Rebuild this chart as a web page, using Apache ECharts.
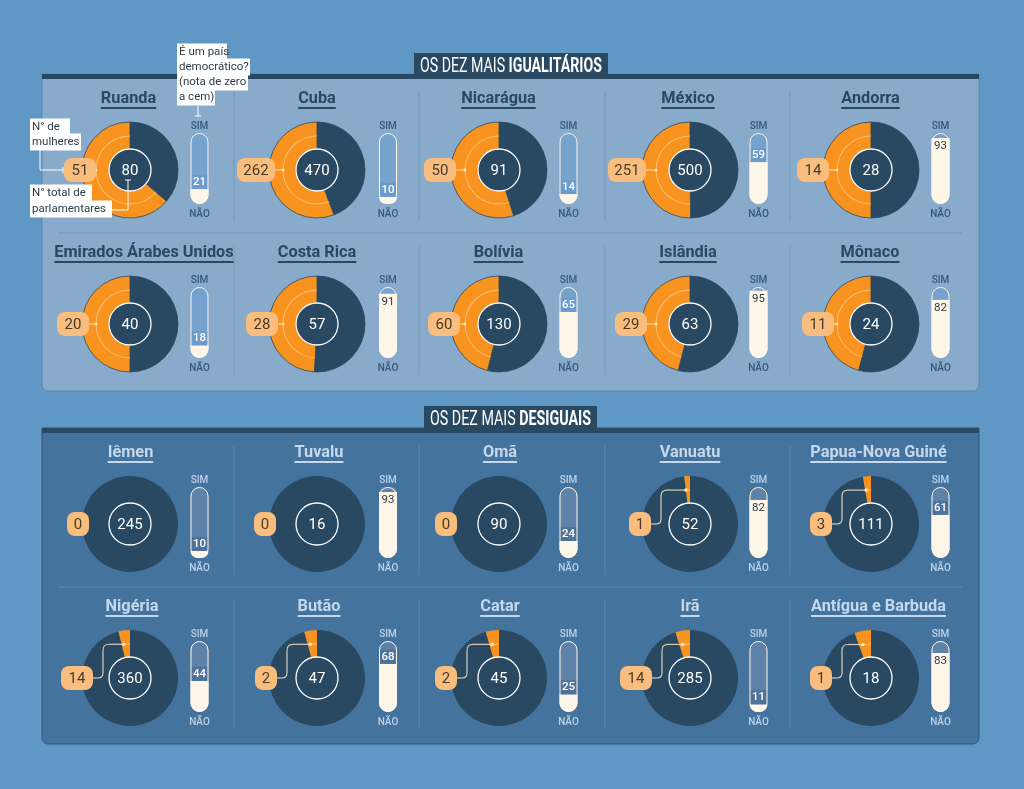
<!DOCTYPE html>
<html>
<head>
  <meta charset="utf-8">
  <title>Os dez mais igualitários e os dez mais desiguais</title>
  <script src="https://cdn.jsdelivr.net/npm/echarts@6/dist/echarts.min.js"></script>
  <style>
    html, body { margin: 0; padding: 0; background: #5f98c4; }
    #chart { width: 1024px; height: 789px; }
  </style>
</head>
<body>
  <div id="chart"></div>
  <script>
    // data
    const countries = [
      'Ruanda', 'Cuba', 'Nicarágua', 'México', 'Andorra',
      'Emirados Árabes Unidos', 'Costa Rica', 'Bolívia', 'Islândia', 'Mônaco',
      'Iêmen', 'Tuvalu', 'Omã', 'Vanuatu', 'Papua-Nova Guiné',
      'Nigéria', 'Butão', 'Catar', 'Irã', 'Antígua e Barbuda'
    ];
    const women = [51, 262, 50, 251, 14, 20, 28, 60, 29, 11, 0, 0, 0, 1, 3, 14, 2, 2, 14, 1];
    const totals = [80, 470, 91, 500, 28, 40, 57, 130, 63, 24, 245, 16, 90, 52, 111, 360, 47, 45, 285, 18];
    const democracy = [21, 10, 14, 59, 93, 18, 91, 65, 95, 82, 10, 93, 24, 82, 61, 44, 68, 25, 11, 83];

    // layout
    const donutX = [130, 317, 499, 690, 871];
    const barX = [199.5, 388, 568.5, 758.5, 940.5];
    const rowY = [170, 324, 524, 678];
    const titleX = [128.5, 317, 498.5, 688, 870.5, 144, 317, 498.5, 688, 870, 130.5, 319, 500, 690, 878.5, 132, 319, 500, 690, 878.5];
    const pillX = [80, 256, 440, 627, 813, 73, 262, 444, 631, 818, 78, 265, 446, 640, 821, 77, 266, 446, 636, 821];
    const dividerX = [234, 419, 605, 790];

    const DARK = '#294962';
    const ORANGE = '#f7931e';
    const CREAM = '#fff6ea';
    const PILL = '#f9be7e';
    const FONT = 'Roboto, sans-serif';

    const measure = document.createElement('canvas').getContext('2d');
    function textWidth(text, font) {
      measure.font = font;
      return measure.measureText(text).width;
    }

    const series = [];
    const grids = [];
    const xAxes = [];
    const yAxes = [];
    const graphics = [];

    function rect(x, y, w, h, fill, z, r, stroke) {
      graphics.push({
        type: 'rect', z: z, silent: true,
        shape: { x: x, y: y, width: w, height: h, r: r || 0 },
        style: { fill: fill, stroke: stroke || null, lineWidth: stroke ? 1 : 0 }
      });
    }
    function text(str, x, y, font, fill, z, align) {
      graphics.push({
        type: 'text', z: z, silent: true, x: x, y: y,
        style: { text: str, font: font, fill: fill, align: align || 'center', verticalAlign: 'middle' }
      });
    }
    function seg(x1, y1, x2, y2, stroke, z, width) {
      graphics.push({
        type: 'line', z: z, silent: true,
        shape: { x1: x1, y1: y1, x2: x2, y2: y2 },
        style: { stroke: stroke, lineWidth: width || 1 }
      });
    }
    function corner(x1, y1, cpx, cpy, x2, y2, stroke, z, width) {
      graphics.push({
        type: 'bezierCurve', z: z, silent: true,
        shape: { x1: x1, y1: y1, x2: x2, y2: y2, cpx1: cpx, cpy1: cpy },
        style: { fill: null, stroke: stroke, lineWidth: width || 1 }
      });
    }
    function dot(x, y, r, fill, z) {
      graphics.push({
        type: 'circle', z: z, silent: true,
        shape: { cx: x, cy: y, r: r },
        style: { fill: fill }
      });
    }

    // panels
    rect(42, 74, 937, 317, '#88abcb', 0, [0, 0, 6, 6], '#5d87ad');
    rect(42, 74, 937, 5, DARK, 1);
    rect(42, 428, 937, 316, '#44739e', 0, [0, 0, 6, 6], '#2f5a80');
    rect(42, 428, 937, 5, DARK, 1);

    // panel headings, squeezed because no condensed display face is installed
    function heading(regular, bold, x, y, w, h) {
      rect(x, y, w, h, DARK, 2);
      const fontA = '20px Roboto';
      const fontB = 'bold 20px Roboto';
      const full = textWidth(regular + ' ', fontA) + textWidth(bold, fontB);
      const scale = (w - 12) / full;
      graphics.push({
        type: 'text', z: 3, silent: true, x: x + 6, y: y + h / 2 + 1, scaleX: scale,
        style: {
          text: '{a|' + regular + ' }{b|' + bold + '}',
          align: 'left', verticalAlign: 'middle',
          rich: {
            a: { fontFamily: 'Roboto', fontSize: 20, fill: '#fff' },
            b: { fontFamily: 'Roboto', fontSize: 20, fontWeight: 'bold', fill: '#fff' }
          }
        }
      });
    }
    heading('OS DEZ MAIS', 'IGUALITÁRIOS', 414, 53, 194, 25);
    heading('OS DEZ MAIS', 'DESIGUAIS', 424, 406, 173, 25);

    // dividers
    rowY.forEach(function (y, r) {
      const stroke = r < 2 ? '#6e97bd' : '#5f8bb3';
      dividerX.forEach(function (x) {
        seg(x, y - 78, x, y + 51, stroke, 1);
      });
    });
    seg(58, 233, 962, 233, '#6e97bd', 1);
    seg(58, 587, 962, 587, '#5f8bb3', 1);

    countries.forEach(function (name, i) {
      const row = Math.floor(i / 5);
      const col = i % 5;
      const cx = donutX[col];
      const cy = rowY[row];
      const bx = barX[col];
      const lightPanel = row < 2;
      const w = women[i];
      const pieData = [
        { value: totals[i] - w, itemStyle: { color: DARK, borderColor: DARK } },
        { value: w, itemStyle: { color: ORANGE, borderColor: lightPanel ? DARK : ORANGE } }
      ];

      series.push({
        type: 'pie', silent: true, animation: false, z: 2,
        center: [cx, cy], radius: [21, 48],
        startAngle: 90, clockwise: true, minAngle: 0,
        label: { show: false }, labelLine: { show: false },
        itemStyle: { borderWidth: lightPanel ? 0.8 : 0 },
        data: pieData
      });
      // thin ring inside the orange part
      series.push({
        type: 'pie', silent: true, animation: false, z: 3,
        center: [cx, cy], radius: [33.5, 34.5],
        startAngle: 90, clockwise: true,
        label: { show: false }, labelLine: { show: false },
        data: [
          { value: totals[i] - w, itemStyle: { color: 'transparent' } },
          { value: w, itemStyle: { color: 'rgba(255,226,186,0.55)' } }
        ]
      });
      // centre disc with the total
      series.push({
        type: 'pie', silent: true, animation: false, z: 4,
        center: [cx, cy], radius: [0, 21],
        itemStyle: { color: DARK, borderColor: '#fff', borderWidth: 1.3 },
        label: {
          show: true, position: 'center', formatter: '{c}', offset: [0, 1],
          color: '#fff', fontFamily: FONT, fontSize: 15
        },
        labelLine: { show: false },
        data: [{ value: totals[i] }]
      });

      // democracy capsule
      const simFill = lightPanel ? '#76a3ce' : '#5f82a9';
      const bandFill = lightPanel ? '#6a9bcb' : '#4f729a';
      const v = democracy[i];
      const inside = v >= 70;
      grids.push({ left: bx - 9, top: cy - 37, width: 18, height: 71 });
      xAxes.push({ type: 'category', gridIndex: i, show: false, data: [name] });
      yAxes.push({ type: 'value', gridIndex: i, show: false, min: 0, max: 100 });
      series.push({
        type: 'bar', xAxisIndex: i, yAxisIndex: i, stack: 's' + i, silent: true, animation: false,
        barWidth: 18, z: 3,
        itemStyle: { color: CREAM, borderRadius: [0, 0, 9, 9] },
        label: {
          show: inside, position: 'insideTop', distance: 2.5, formatter: String(v),
          color: '#2f3b46', fontFamily: FONT, fontSize: 11.5
        },
        data: [v]
      });
      series.push({
        type: 'bar', xAxisIndex: i, yAxisIndex: i, stack: 's' + i, silent: true, animation: false,
        barWidth: 18, z: 3,
        itemStyle: { color: simFill, borderRadius: [9, 9, 0, 0] },
        label: {
          show: !inside, position: 'insideBottom', distance: 0, formatter: String(v),
          color: '#fff', fontFamily: FONT, fontSize: 11.5, fontWeight: 500,
          width: 18, height: 14, lineHeight: 14, align: 'center', backgroundColor: bandFill
        },
        data: [100 - v]
      });
      series.push({
        type: 'bar', xAxisIndex: i, yAxisIndex: i, silent: true, animation: false,
        barWidth: 18, barGap: '-100%', z: 4,
        itemStyle: { color: 'transparent', borderColor: CREAM, borderWidth: 1, borderRadius: 9 },
        data: [100]
      });

      const capColor = lightPanel ? '#34597c' : '#bcd2e8';
      text('SIM', bx, cy - 43.5, '500 10px ' + FONT, capColor, 5);
      text('NÃO', bx, cy + 44.5, '500 10px ' + FONT, capColor, 5);

      // country title
      const titleFont = 'bold 16.3px ' + FONT;
      const titleColor = lightPanel ? DARK : '#c4d9ee';
      const tx = titleX[i];
      const tw = textWidth(name, titleFont);
      text(name, tx, cy - 71.5, titleFont, titleColor, 5);
      rect(tx - tw / 2, cy - 63, tw, 2, titleColor, 5);

      // women count pill and its connector
      const digits = String(w).length;
      const pw = digits === 1 ? 22 : digits === 2 ? 32 : 38;
      const px = pillX[i];
      const pr = px + pw / 2;
      if (w > 0 && w / totals[i] > 0.2) {
        const rx = cx - 34;
        seg(pr, cy, rx, cy, '#ffe2ba', 8);
        dot(rx, cy, 1.6, '#ffe2ba', 8);
      } else if (w > 0) {
        const mid = Math.PI * w / totals[i];
        const ex = cx - 34 * Math.sin(mid) - 2;
        const ey = cy - 34 * Math.cos(mid);
        const vx = pr + 10;
        const c = '#d9cdb8';
        seg(pr, cy, vx - 5, cy, c, 8, 1.2);
        corner(vx - 5, cy, vx, cy, vx, cy - 5, c, 8, 1.2);
        seg(vx, cy - 5, vx, ey + 6, c, 8, 1.2);
        corner(vx, ey + 6, vx, ey, vx + 6, ey, c, 8, 1.2);
        seg(vx + 6, ey, ex, ey, c, 8, 1.2);
        dot(ex, ey, 1.8, '#ffe2ba', 8);
      }
      rect(px - pw / 2, cy - 12, pw, 24, PILL, 9, 8);
      text(String(w), px, cy + 1, '15px ' + FONT, '#4a3a2a', 10);
    });

    // explanatory callouts on Ruanda
    function callout(str, x, y, w) {
      rect(x, y - 8.5, w, 17, '#fff', 20);
      text(str, x + 2, y + 0.5, '11.5px ' + FONT, '#2f3b46', 21, 'left');
    }
    seg(198, 106, 198, 116, '#fff', 19);
    seg(195, 116, 201, 116, '#fff', 19);
    callout('É um país', 177, 52, 50);
    callout('democrático?', 177, 67, 73);
    callout('(nota de zero', 177, 82, 71);
    callout('a cem)', 177, 97, 38);
    seg(40, 150, 40, 170, '#fff', 19);
    seg(40, 170, 63, 170, '#fff', 19);
    seg(63, 167, 63, 173, '#fff', 19);
    callout('N° de', 30, 127, 40);
    callout('mulheres', 30, 142, 51);
    seg(128, 180, 128, 210, '#fff', 19);
    seg(128, 210, 112, 210, '#fff', 19);
    seg(125, 180, 131, 180, '#fff', 19);
    callout('N° total de', 30, 193, 62);
    callout('parlamentares', 30, 209, 82);

    const chart = echarts.init(document.getElementById('chart'), null, { renderer: 'canvas' });
    chart.setOption({
      animation: false,
      backgroundColor: '#5f98c4',
      tooltip: { show: false },
      grid: grids,
      xAxis: xAxes,
      yAxis: yAxes,
      series: series,
      graphic: { elements: graphics }
    });
  </script>
</body>
</html>
